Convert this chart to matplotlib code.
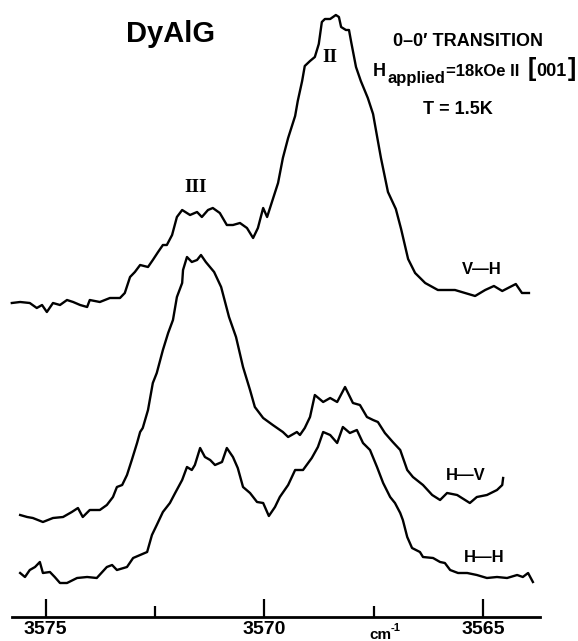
import matplotlib
matplotlib.use("Agg")
import matplotlib.pyplot as plt

# wavenumber (cm^-1) and trace height (arb. units, offsets as drawn)
VH_WN = [3575.77, 3575.58, 3575.36, 3575.20, 3575.08, 3574.97, 3574.83, 3574.67, 3574.51, 3574.37,
         3574.21, 3574.05, 3573.99, 3573.76, 3573.53, 3573.30, 3573.19, 3573.07, 3572.96, 3572.84,
         3572.66, 3572.55, 3572.43, 3572.32, 3572.23, 3572.11, 3572.00, 3571.88, 3571.70, 3571.54,
         3571.43, 3571.29, 3571.18, 3571.02, 3570.86, 3570.72, 3570.56, 3570.40, 3570.26, 3570.15,
         3570.03, 3569.94, 3569.83, 3569.69, 3569.58, 3569.46, 3569.30, 3569.24, 3569.14, 3569.08,
         3568.96, 3568.85, 3568.76, 3568.69, 3568.62, 3568.50, 3568.37, 3568.30, 3568.25, 3568.14,
         3568.07, 3568.02, 3567.91, 3567.80, 3567.64, 3567.52, 3567.41, 3567.34, 3567.18, 3567.00,
         3566.88, 3566.72, 3566.56, 3566.33, 3566.04, 3565.65, 3565.19, 3564.96, 3564.76, 3564.57,
         3564.26, 3564.12, 3563.96]
VH_I = [314, 315, 314, 309, 312, 305, 314, 312, 317, 315,
        312, 310, 317, 315, 319, 319, 324, 340, 345, 352,
        350, 357, 365, 372, 372, 382, 400, 407, 402, 405,
        400, 407, 409, 404, 392, 392, 394, 389, 379, 389,
        409, 400, 415, 434, 459, 479, 501, 516, 536, 551,
        556, 560, 573, 595, 598, 598, 602, 600, 590, 587,
        587, 575, 550, 536, 519, 503, 476, 459, 425, 408,
        388, 358, 344, 334, 327, 327, 321, 327, 331, 326,
        333, 324, 324]

HV_WN = [3575.58, 3575.42, 3575.29, 3575.06, 3574.83, 3574.60, 3574.40, 3574.26, 3574.15, 3573.99,
         3573.76, 3573.60, 3573.46, 3573.37, 3573.25, 3573.14, 3573.03, 3572.91, 3572.84, 3572.78,
         3572.66, 3572.55, 3572.46, 3572.32, 3572.20, 3572.09, 3572.00, 3571.88, 3571.86, 3571.77,
         3571.66, 3571.54, 3571.45, 3571.34, 3571.15, 3570.99, 3570.81, 3570.65, 3570.49, 3570.33,
         3570.22, 3570.03, 3569.81, 3569.58, 3569.46, 3569.26, 3569.19, 3569.08, 3568.96, 3568.85,
         3568.66, 3568.50, 3568.34, 3568.16, 3567.98, 3567.82, 3567.66, 3567.52, 3567.41, 3567.25,
         3567.07, 3566.90, 3566.74, 3566.61, 3566.38, 3566.17, 3565.99, 3565.83, 3565.60, 3565.31,
         3565.15, 3564.92, 3564.69, 3564.57, 3564.55]
HV_I = [102, 100, 99, 95, 99, 100, 105, 109, 100, 107,
        107, 112, 120, 130, 132, 142, 157, 174, 185, 189,
        207, 234, 244, 267, 284, 297, 320, 334, 347, 360,
        355, 357, 362, 355, 345, 330, 300, 280, 250, 227,
        210, 199, 192, 185, 180, 185, 182, 189, 200, 222,
        215, 219, 215, 230, 214, 212, 200, 197, 195, 184,
        175, 167, 147, 140, 132, 122, 117, 124, 122, 114,
        120, 122, 127, 132, 139]

HH_WN = [3575.58, 3575.47, 3575.36, 3575.24, 3575.13, 3575.06, 3574.90, 3574.79, 3574.67, 3574.51,
         3574.28, 3574.05, 3573.83, 3573.60, 3573.48, 3573.37, 3573.14, 3573.00, 3572.68, 3572.57,
         3572.46, 3572.32, 3572.16, 3572.04, 3571.88, 3571.77, 3571.66, 3571.59, 3571.47, 3571.36,
         3571.24, 3571.13, 3570.97, 3570.86, 3570.72, 3570.61, 3570.49, 3570.33, 3570.17, 3570.03,
         3569.90, 3569.76, 3569.65, 3569.46, 3569.30, 3569.12, 3568.92, 3568.78, 3568.66, 3568.50,
         3568.34, 3568.21, 3568.05, 3567.89, 3567.75, 3567.59, 3567.43, 3567.29, 3567.13, 3567.02,
         3566.90, 3566.84, 3566.74, 3566.63, 3566.45, 3566.38, 3566.15, 3565.99, 3565.88, 3565.76,
         3565.58, 3565.37, 3565.15, 3564.92, 3564.69, 3564.46, 3564.23, 3564.10, 3563.98, 3563.87]
HH_I = [44, 40, 47, 50, 55, 44, 45, 40, 34, 34,
        39, 40, 39, 50, 52, 47, 50, 59, 65, 82,
        92, 105, 114, 124, 137, 150, 147, 152, 169, 160,
        157, 152, 155, 169, 160, 149, 130, 124, 115, 114,
        101, 110, 120, 132, 147, 147, 159, 170, 185, 182,
        174, 190, 184, 187, 174, 167, 150, 134, 120, 114,
        104, 97, 80, 69, 65, 60, 59, 55, 54, 47,
        44, 44, 42, 39, 40, 39, 42, 40, 44, 35]

MAJOR_TICKS = [3575, 3570, 3565]
MAJOR_LABELS = ["3575", "3570", "3565"]
MINOR_TICKS = [3572.5, 3567.5]
AXIS_SPAN = (3575.77, 3563.71)

W, H = 578, 641
SANS = ["Liberation Sans", "DejaVu Sans"]
SERIF = ["Liberation Serif", "DejaVu Serif"]


def fxy(px, py):
    # pixel position on the page -> figure fraction
    return px / W, 1 - py / H


def label(fig, px, py, s, size, **kw):
    kw.setdefault("ha", "center")
    kw.setdefault("va", "center")
    kw.setdefault("family", SANS)
    fig.text(*fxy(px, py), s, fontsize=size, fontweight="bold", **kw)


def main():
    plt.rcParams["font.family"] = SANS
    plt.rcParams["font.weight"] = "bold"

    fig = plt.figure(figsize=(W / 100, H / 100), dpi=100)
    ax = fig.add_axes([0, 24 / H, 1, 617 / H])

    for wn, inten in [(VH_WN, VH_I), (HV_WN, HV_I), (HH_WN, HH_I)]:
        ax.plot(wn, inten, color="black", linewidth=1.7)

    ax.set_xlim(3576.04, 3562.84)
    ax.set_ylim(0, 617)
    for side in ["left", "right", "top"]:
        ax.spines[side].set_visible(False)
    ax.spines["bottom"].set_bounds(*AXIS_SPAN)
    ax.spines["bottom"].set_linewidth(2)
    ax.set_yticks([])
    ax.set_xticks(MAJOR_TICKS)
    ax.set_xticklabels(MAJOR_LABELS, fontweight="bold")
    ax.set_xticks(MINOR_TICKS, minor=True)
    ax.tick_params(axis="x", which="major", direction="in", length=13, width=1.6,
                   labelsize=14, pad=3)
    ax.tick_params(axis="x", which="minor", direction="in", length=8, width=1.6)

    label(fig, 369, 639, "cm", 11, ha="left", va="baseline")
    label(fig, 391, 631, "-1", 8, ha="left", va="baseline")

    label(fig, 170, 34, "DyAlG", 21)
    label(fig, 468, 42, "0\u20130\u2032 TRANSITION", 13)
    label(fig, 373, 76, "H", 13, ha="left", va="baseline")
    label(fig, 388, 83, "applied", 12, ha="left", va="baseline")
    label(fig, 446, 76, "=18kOe II", 12, ha="left", va="baseline")
    label(fig, 528, 69, "[", 18, ha="left")
    label(fig, 536, 76, "001", 13, ha="left", va="baseline")
    label(fig, 568, 69, "]", 18, ha="left")
    label(fig, 458, 109, "T = 1.5K", 13)

    label(fig, 330, 58, "II", 14, family=SERIF)
    label(fig, 196, 188, "III", 14, family=SERIF)

    label(fig, 482, 269, "V\u2014H", 12)
    label(fig, 466, 475, "H\u2014V", 12)
    label(fig, 484, 557, "H\u2014H", 12)

    fig.savefig("out.png", dpi=100, facecolor="white")


if __name__ == "__main__":
    main()
